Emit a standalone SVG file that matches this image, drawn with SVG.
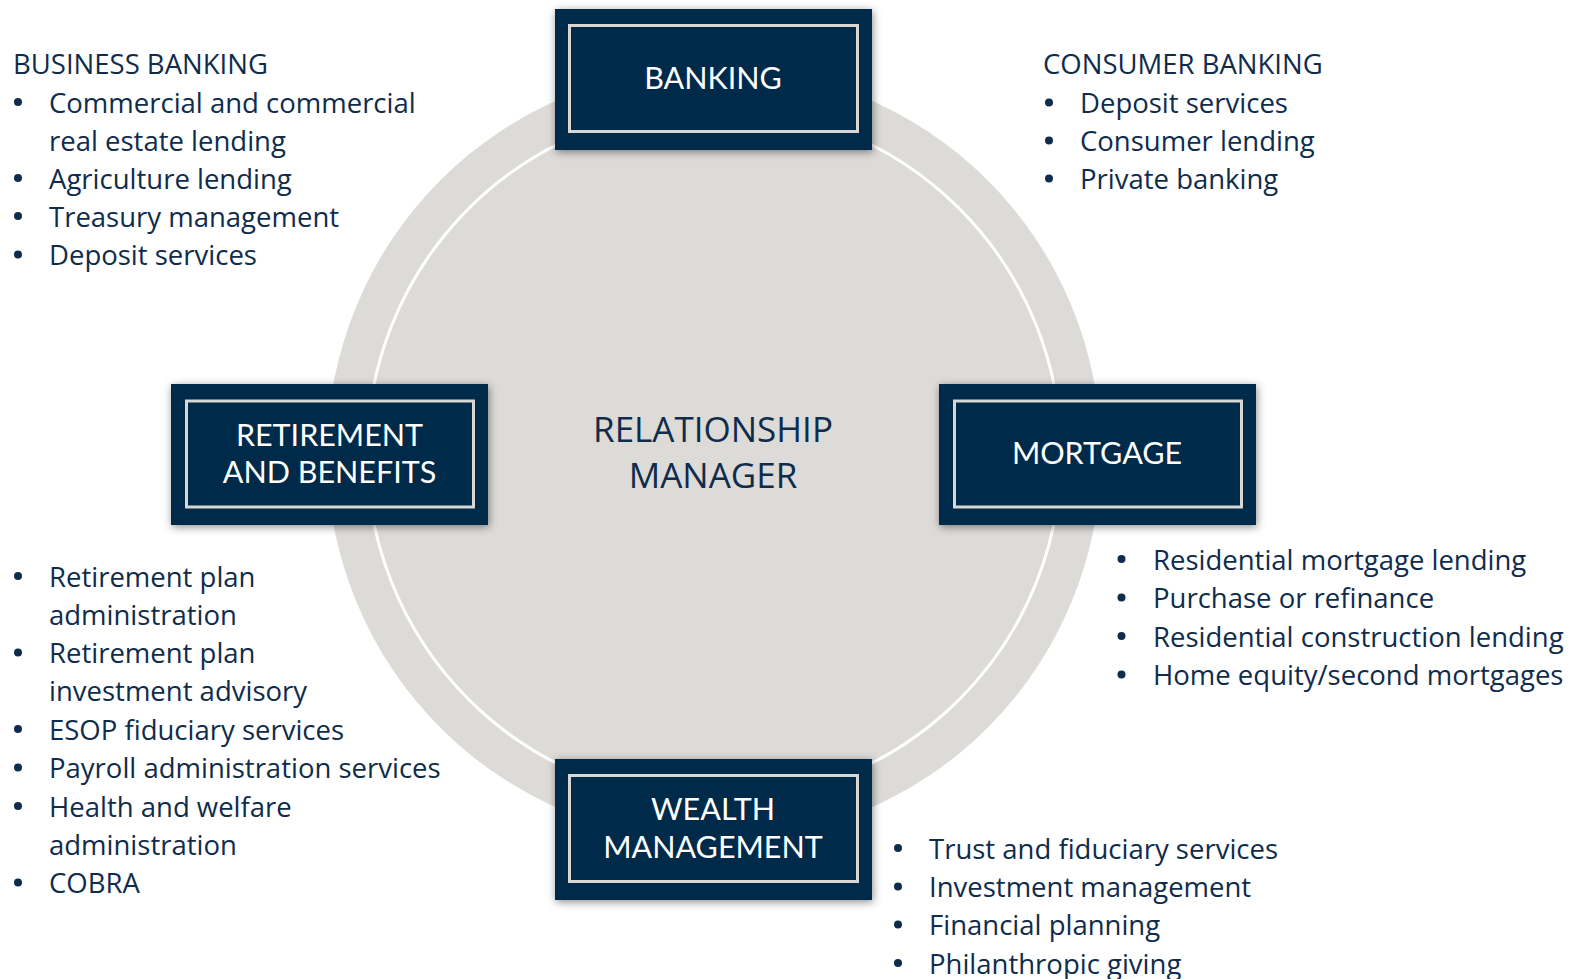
<svg xmlns="http://www.w3.org/2000/svg" width="1583" height="979" viewBox="0 0 1583 979">
<defs>
<filter id="sh" x="-10%" y="-15%" width="120%" height="130%">
<feDropShadow dx="1" dy="2" stdDeviation="4" flood-color="#000" flood-opacity="0.45"/>
</filter>
<style>
.box{fill:#022b4a;filter:url(#sh)}
.inner{fill:none;stroke:#d8d7d3;stroke-width:3}
.t{font-family:Lato,"Open Sans","Liberation Sans",sans-serif;fill:#ffffff;font-size:30.5px;text-anchor:middle}
.b{font-family:"Open Sans","Liberation Sans",sans-serif;fill:#0f2c4c;font-size:27.5px}
.c{font-family:"Open Sans","Liberation Sans",sans-serif;fill:#0f2c4c;font-size:35px;text-anchor:middle}
.dot{fill:#0f2c4c}
</style>
</defs>
<rect width="1583" height="979" fill="#ffffff"/>
<g id="hub">
<circle cx="714" cy="454" r="387" fill="#dddbd7"/>
<circle cx="714" cy="454" r="347" fill="#dddbd7" stroke="#ffffff" stroke-width="3"/>
<text class="c" x="713" y="442">RELATIONSHIP</text>
<text class="c" x="713" y="488">MANAGER</text>
</g>
<g id="connectors"></g>
<g id="banking">
<rect class="box" x="555" y="9" width="317" height="141"/>
<rect class="inner" x="569.5" y="25.5" width="288" height="106"/>
<text class="t" x="713" y="89">BANKING</text>
</g>
<g id="retirement">
<rect class="box" x="171" y="384" width="317" height="141"/>
<rect class="inner" x="186.5" y="401" width="287" height="106"/>
<text class="t" x="329.5" y="446">RETIREMENT</text>
<text class="t" x="329.5" y="483">AND BENEFITS</text>
</g>
<g id="mortgage">
<rect class="box" x="939" y="384" width="317" height="141"/>
<rect class="inner" x="954.5" y="401" width="287" height="106"/>
<text class="t" x="1097" y="463.5">MORTGAGE</text>
</g>
<g id="wealth">
<rect class="box" x="555" y="759" width="317" height="141"/>
<rect class="inner" x="569.5" y="775.5" width="288" height="106"/>
<text class="t" x="713" y="820">WEALTH</text>
<text class="t" x="713" y="857.5">MANAGEMENT</text>
</g>
<g id="business-banking">
<text class="b" x="13" y="74">BUSINESS BANKING</text>
<circle class="dot" cx="18" cy="102" r="4"/>
<text class="b" x="49" y="112.5">Commercial and commercial</text>
<text class="b" x="49" y="150.5">real estate lending</text>
<circle class="dot" cx="18" cy="178" r="4"/>
<text class="b" x="49" y="188.5">Agriculture lending</text>
<circle class="dot" cx="18" cy="216" r="4"/>
<text class="b" x="49" y="226.5">Treasury management</text>
<circle class="dot" cx="18" cy="254.5" r="4"/>
<text class="b" x="49" y="265">Deposit services</text>
</g>
<g id="consumer-banking">
<text class="b" x="1043" y="74">CONSUMER BANKING</text>
<circle class="dot" cx="1049" cy="102.5" r="4"/>
<text class="b" x="1080" y="113">Deposit services</text>
<circle class="dot" cx="1049" cy="140.5" r="4"/>
<text class="b" x="1080" y="151">Consumer lending</text>
<circle class="dot" cx="1049" cy="178.5" r="4"/>
<text class="b" x="1080" y="189">Private banking</text>
</g>
<g id="retirement-list">
<circle class="dot" cx="18" cy="576" r="4"/>
<text class="b" x="49" y="586.5">Retirement plan</text>
<text class="b" x="49" y="624.5">administration</text>
<circle class="dot" cx="18" cy="652.5" r="4"/>
<text class="b" x="49" y="663">Retirement plan</text>
<text class="b" x="49" y="701">investment advisory</text>
<circle class="dot" cx="18" cy="729" r="4"/>
<text class="b" x="49" y="739.5">ESOP fiduciary services</text>
<circle class="dot" cx="18" cy="767.5" r="4"/>
<text class="b" x="49" y="778">Payroll administration services</text>
<circle class="dot" cx="18" cy="806" r="4"/>
<text class="b" x="49" y="816.5">Health and welfare</text>
<text class="b" x="49" y="855">administration</text>
<circle class="dot" cx="18" cy="882.5" r="4"/>
<text class="b" x="49" y="893">COBRA</text>
</g>
<g id="mortgage-list">
<circle class="dot" cx="1121.5" cy="559" r="4"/>
<text class="b" x="1153" y="569.5">Residential mortgage lending</text>
<circle class="dot" cx="1121.5" cy="597.5" r="4"/>
<text class="b" x="1153" y="608">Purchase or refinance</text>
<circle class="dot" cx="1121.5" cy="636" r="4"/>
<text class="b" x="1153" y="646.5">Residential construction lending</text>
<circle class="dot" cx="1121.5" cy="674.5" r="4"/>
<text class="b" x="1153" y="685">Home equity/second mortgages</text>
</g>
<g id="wealth-list">
<circle class="dot" cx="898" cy="848" r="4"/>
<text class="b" x="929" y="858.5">Trust and fiduciary services</text>
<circle class="dot" cx="898" cy="886.5" r="4"/>
<text class="b" x="929" y="897">Investment management</text>
<circle class="dot" cx="898" cy="924.5" r="4"/>
<text class="b" x="929" y="935">Financial planning</text>
<circle class="dot" cx="898" cy="963" r="4"/>
<text class="b" x="929" y="973.5">Philanthropic giving</text>
</g>
</svg>
